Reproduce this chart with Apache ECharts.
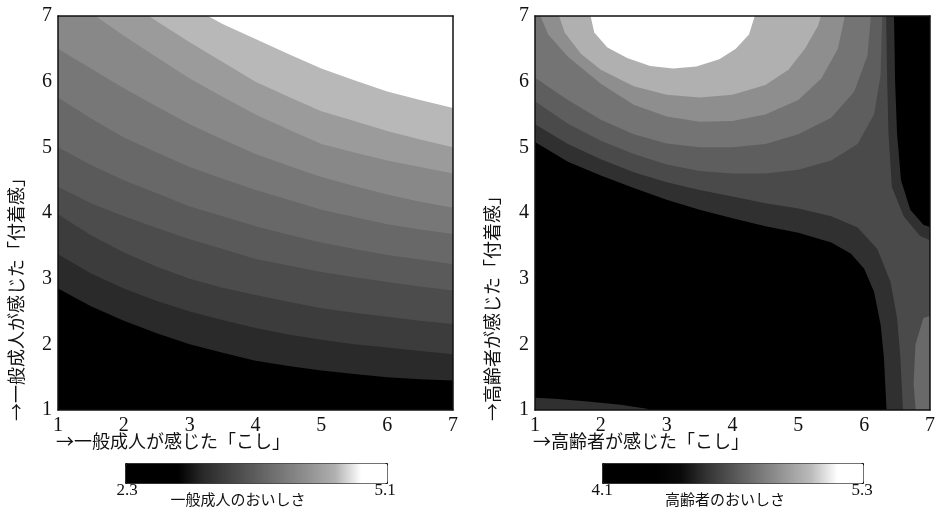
<!DOCTYPE html>
<html><head><meta charset="utf-8">
<script src="https://cdn.jsdelivr.net/npm/echarts@6/dist/echarts.min.js"></script>
<style>html,body{margin:0;padding:0;background:#fff}#c{width:943px;height:508px}</style>
</head><body><div id="c"></div>
<script>
// ---- Left chart (一般成人): contour boundaries y(x), sampled at leftX ----
var leftX = [1,1.5,2,2.5,3,3.5,4,4.5,5,5.5,6,6.5,7];
var leftBoundaries = [
  [2.85,2.58,2.36,2.17,2.0,1.87,1.75,1.67,1.6,1.55,1.5,1.47,1.45],
  [3.37,3.08,2.85,2.66,2.5,2.37,2.25,2.15,2.07,2.0,1.95,1.9,1.85],
  [3.98,3.66,3.4,3.18,3.0,2.86,2.75,2.65,2.55,2.48,2.42,2.36,2.31],
  [4.4,4.15,3.95,3.77,3.6,3.45,3.3,3.2,3.1,3.02,2.95,2.88,2.82],
  [5.0,4.73,4.5,4.3,4.1,3.95,3.8,3.67,3.55,3.45,3.36,3.29,3.22],
  [5.76,5.44,5.15,4.92,4.7,4.52,4.35,4.2,4.05,3.94,3.83,3.75,3.68],
  [6.5,6.2,5.9,5.62,5.35,5.12,4.9,4.72,4.55,4.41,4.28,4.17,4.08],
  [7.4,7.05,6.7,6.37,6.05,5.77,5.5,5.27,5.05,4.92,4.8,4.7,4.6],
  [8.0,7.6,7.25,6.92,6.6,6.3,6.0,5.77,5.55,5.4,5.25,5.12,5.0],
  [8.6,8.2,7.8,7.45,7.15,6.88,6.65,6.42,6.2,6.02,5.85,5.72,5.6]
];
var leftBaseLevel = 2.3;
var leftLevels = [3.14,3.33,3.51,3.66,3.81,3.97,4.15,4.34,4.57,5.1];
var leftRange = [2.3, 5.1];
var leftStops = ['#000000','#000000','#000000','#2a2a2a','#444444','#5e5e5e','#787878','#929292','#b0b0b0','#ffffff','#ffffff'];

// ---- Right chart (高齢者): contour regions (data-space polygons) ----
var rightRegions = [
  [[0.8,0.8],[7.2,0.8],[7.2,7.2],[0.8,7.2]],
  [[0.8,5.12],[1.0,5.08],[1.5,4.78],[2.0,4.57],[2.5,4.38],[3.0,4.2],[3.5,4.05],[4.0,3.92],[4.5,3.8],[5.0,3.7],[5.5,3.55],[5.8,3.38],[6.0,3.15],[6.15,2.8],[6.25,2.3],[6.3,1.8],[6.35,0.8],[7.2,0.8],[7.2,3.72],[6.9,3.82],[6.7,4.05],[6.56,4.5],[6.5,5.2],[6.47,6.0],[6.45,7.2],[0.8,7.2]],
  [[0.8,0.8],[0.8,1.2],[1.3,1.17],[1.8,1.13],[2.3,1.08],[2.7,1.02],[2.9,0.8]],
  [[0.8,5.38],[1.0,5.35],[1.5,5.05],[2.0,4.82],[2.5,4.62],[3.0,4.47],[3.5,4.35],[4.0,4.25],[4.5,4.15],[5.0,4.07],[5.5,3.95],[5.9,3.78],[6.2,3.45],[6.4,2.95],[6.5,2.4],[6.55,1.8],[6.6,0.8],[7.2,0.8],[7.2,3.5],[6.85,3.65],[6.6,3.95],[6.42,4.4],[6.37,5.2],[6.35,6.0],[6.33,7.2],[0.8,7.2]],
  [[6.8,0.8],[6.75,1.4],[6.78,2.0],[6.9,2.4],[7.2,2.5],[7.2,0.8]],
  [[0.8,5.72],[1.0,5.7],[1.5,5.36],[2.0,5.1],[2.5,4.9],[3.0,4.74],[3.5,4.64],[4.0,4.6],[4.5,4.6],[5.0,4.66],[5.5,4.8],[5.9,5.05],[6.15,5.5],[6.25,6.1],[6.28,7.2],[0.8,7.2]],
  [[0.8,6.1],[1.0,6.06],[1.5,5.72],[2.0,5.42],[2.5,5.2],[3.0,5.06],[3.5,5.0],[4.0,5.0],[4.5,5.05],[5.0,5.2],[5.5,5.45],[5.85,5.85],[6.05,6.4],[6.12,7.2],[0.8,7.2]],
  [[1.0,7.2],[1.2,6.72],[1.5,6.38],[2.0,5.97],[2.5,5.65],[3.0,5.47],[3.5,5.39],[4.0,5.4],[4.5,5.5],[5.0,5.72],[5.35,6.05],[5.6,6.5],[5.75,7.2]],
  [[1.3,7.2],[1.45,6.75],[1.7,6.42],[2.0,6.18],[2.5,5.93],[3.0,5.8],[3.5,5.76],[4.0,5.8],[4.5,5.95],[4.85,6.18],[5.1,6.5],[5.3,6.85],[5.4,7.2]],
  [[1.8,7.2],[1.9,6.75],[2.1,6.52],[2.4,6.36],[2.75,6.24],[3.1,6.2],[3.45,6.23],[3.8,6.34],[4.05,6.5],[4.25,6.72],[4.4,7.2]]
];
var rightLevels = [4.1,4.57,4.57,4.66,4.77,4.73,4.81,4.90,5.02,5.3];
var rightRange = [4.1, 5.3];
var rightStops = ['#000000','#000000','#000000','#0a0a0a','#333333','#555555','#777777','#999999','#bbbbbb','#ffffff','#ffffff'];

// build left polygons from boundaries
var leftPolys = [[[0.7,0.7],[7.3,0.7],[7.3,10],[0.7,10]]];
leftBoundaries.forEach(function(b){
  var pts = [[0.7, b[0]]];
  for (var i = 0; i < leftX.length; i++) pts.push([leftX[i], b[i]]);
  pts.push([7.3, b[b.length-1]], [7.3, 10], [0.7, 10]);
  leftPolys.push(pts);
});
var leftData = [[0, leftBaseLevel]].concat(leftLevels.map(function(v,i){return [i+1, v];}));
var rightData = rightLevels.map(function(v,i){return [i, v];});

function render(polys){
  return function(params, api){
    var pts = polys[params.dataIndex].map(function(p){return api.coord(p);});
    return {type:'polygon', shape:{points:pts}, style:{fill: api.visual('color')}};
  };
}

var NUM_FONT = '"Liberation Serif","Times New Roman",serif';
var JP_FONT = '"Noto Sans CJK JP",sans-serif';

function xAxes(g){
  return [
    {gridIndex:g, type:'value', min:1, max:7, interval:1, position:'bottom', z:10,
     axisLine:{show:true, onZero:false, lineStyle:{color:'#111', width:1.5}},
     axisTick:{show:false}, splitLine:{show:false},
     axisLabel:{color:'#111', fontSize:20, fontFamily:NUM_FONT, margin:6}},
    {gridIndex:g, type:'value', min:1, max:7, interval:1, position:'top', z:10,
     axisLine:{show:true, onZero:false, lineStyle:{color:'#111', width:1.5}},
     axisTick:{show:false}, splitLine:{show:false}, axisLabel:{show:false}}
  ];
}
function yAxes(g){
  return [
    {gridIndex:g, type:'value', min:1, max:7, interval:1, position:'left', z:10,
     axisLine:{show:true, onZero:false, lineStyle:{color:'#111', width:1.5}},
     axisTick:{show:false}, splitLine:{show:false},
     axisLabel:{color:'#111', fontSize:20, fontFamily:NUM_FONT, margin:6}},
    {gridIndex:g, type:'value', min:1, max:7, interval:1, position:'right', z:10,
     axisLine:{show:true, onZero:false, lineStyle:{color:'#111', width:1.5}},
     axisTick:{show:false}, splitLine:{show:false}, axisLabel:{show:false}}
  ];
}

function txt(x, y, s, size, align, rot, fam){
  return {type:'text', x:x, y:y, rotation: rot || 0, z:20,
    style:{text:s, font: size + 'px ' + (fam || JP_FONT), fill:'#111', textAlign: align || 'left', textVerticalAlign:'middle', align: align || 'left', verticalAlign:'middle'}};
}

var chart = echarts.init(document.getElementById('c'), null, {renderer:'canvas'});
chart.setOption({
  animation:false,
  backgroundColor:'#fff',
  grid:[
    {left:58, top:16, width:395, height:394},
    {left:535, top:16, width:395, height:394}
  ],
  xAxis: xAxes(0).concat(xAxes(1)),
  yAxis: yAxes(0).concat(yAxes(1)),
  visualMap:[
    {type:'continuous', seriesIndex:0, dimension:1, min:leftRange[0], max:leftRange[1],
     orient:'horizontal', left:125, top:463, itemWidth:20, itemHeight:262,
     calculable:false, hoverLink:false, text:null, padding:0, borderColor:'#111', borderWidth:1,
     inRange:{color:leftStops}},
    {type:'continuous', seriesIndex:1, dimension:1, min:rightRange[0], max:rightRange[1],
     orient:'horizontal', left:602, top:463, itemWidth:20, itemHeight:261,
     calculable:false, hoverLink:false, text:null, padding:0, borderColor:'#111', borderWidth:1,
     inRange:{color:rightStops}}
  ],
  series:[
    {type:'custom', xAxisIndex:0, yAxisIndex:0, clip:true, renderItem:render(leftPolys), data:leftData, silent:true},
    {type:'custom', xAxisIndex:2, yAxisIndex:2, clip:true, renderItem:render(rightRegions), data:rightData, silent:true}
  ],
  graphic:[
    txt(16, 421, '→一般成人が感じた「付着感」', 18, 'left', Math.PI/2),
    txt(492, 421, '→高齢者が感じた「付着感」', 18, 'left', Math.PI/2),
    txt(56, 441, '→一般成人が感じた「こし」', 18, 'left'),
    txt(533, 441, '→高齢者が感じた「こし」', 18, 'left'),
    txt(127, 491, '2.3', 17, 'center', 0, NUM_FONT),
    txt(385, 491, '5.1', 17, 'center', 0, NUM_FONT),
    txt(238, 499, '一般成人のおいしさ', 15, 'center'),
    txt(602, 491, '4.1', 17, 'center', 0, NUM_FONT),
    txt(862, 491, '5.3', 17, 'center', 0, NUM_FONT),
    txt(725, 499, '高齢者のおいしさ', 15, 'center')
  ]
});
</script></body></html>
